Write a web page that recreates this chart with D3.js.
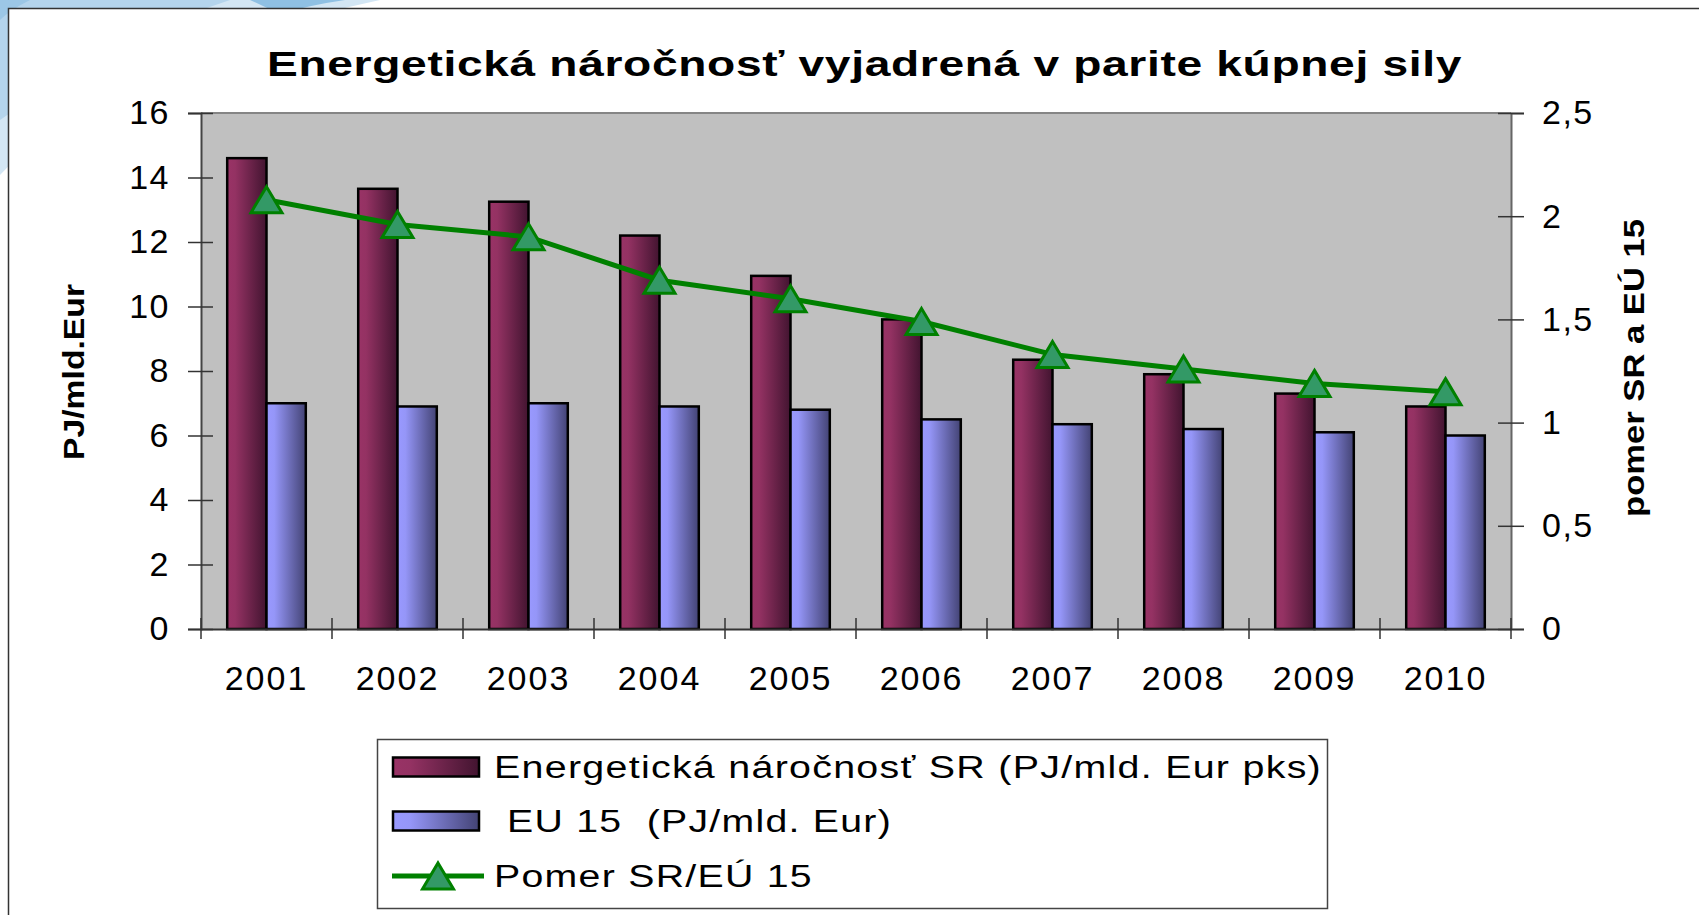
<!DOCTYPE html>
<html>
<head>
<meta charset="utf-8">
<script src="https://cdn.jsdelivr.net/npm/d3@7"></script>
<style>
body { margin: 0; background: #fff; }
text { font-family: "Liberation Sans", Arial, sans-serif; fill: #000; }
</style>
</head>
<body>
<div id="chart"></div>
<script>
// data
var years = ["2001", "2002", "2003", "2004", "2005", "2006", "2007", "2008", "2009", "2010"];
var srIntensity = [14.6, 13.65, 13.25, 12.2, 10.95, 9.6, 8.35, 7.9, 7.3, 6.9];   // PJ/mld. Eur pks
var eu15Intensity = [7.0, 6.9, 7.0, 6.9, 6.8, 6.5, 6.35, 6.2, 6.1, 6.0];        // PJ/mld. Eur
var ratioSrEu = [2.08, 1.96, 1.90, 1.69, 1.60, 1.49, 1.33, 1.26, 1.19, 1.15];   // right axis
var leftTicks = [0, 2, 4, 6, 8, 10, 12, 14, 16];
var rightTicks = [0, 0.5, 1, 1.5, 2, 2.5];
var seriesNames = ["Energetická náročnosť SR (PJ/mld. Eur pks)", "EU 15  (PJ/mld. Eur)", "Pomer SR/EÚ 15"];

var WIDTH = 1699, HEIGHT = 915;
var PLOT = {left: 201, right: 1511, top: 113, bottom: 629};
var LINE_GREEN = "#008000";

var svg = d3.select("#chart").append("svg")
    .attr("width", WIDTH)
    .attr("height", HEIGHT);

// light blue swoosh behind the frame (top-left corner of the slide)
var deco = svg.append("g");
deco.append("path").attr("d", "M0,0 L380,0 Q260,25 140,80 Q50,120 0,175 Z").attr("fill", "#d3e6f4");
deco.append("path").attr("d", "M0,0 L230,0 Q120,35 0,120 Z").attr("fill", "#b4d4ec");
deco.append("path").attr("d", "M250,0 L345,0 Q310,5 280,14 Z").attr("fill", "#8fc0e3");
deco.append("path").attr("d", "M0,20 Q10,10 30,0 L0,0 Z").attr("fill", "#9cc7e6");

// slide frame
svg.append("rect")
    .attr("x", 8.5).attr("y", 8.5)
    .attr("width", WIDTH + 20).attr("height", HEIGHT + 20)
    .attr("fill", "#fff")
    .attr("stroke", "#333").attr("stroke-width", 1.5);

// gradients for the bars
var defs = svg.append("defs");
function addGradient(id, stops) {
  var g = defs.append("linearGradient").attr("id", id)
      .attr("x1", "0").attr("x2", "1").attr("y1", "0").attr("y2", "0");
  stops.forEach(function(s) { g.append("stop").attr("offset", s[0]).attr("stop-color", s[1]); });
}
addGradient("gradSR", [[0, "#993366"], [0.2, "#943263"], [1, "#421430"]]);
addGradient("gradEU", [[0, "#9999ff"], [0.2, "#9596f8"], [1, "#434374"]]);

// scales
var x0 = d3.scaleBand()
    .domain(years)
    .range([PLOT.left, PLOT.right])
    .paddingInner(0.4)
    .paddingOuter(0.2);
var x1 = d3.scaleBand()
    .domain(["sr", "eu"])
    .range([0, x0.bandwidth()]);
var yLeft = d3.scaleLinear().domain([0, 16]).range([PLOT.bottom, PLOT.top]);
var yRight = d3.scaleLinear().domain([0, 2.5]).range([PLOT.bottom, PLOT.top]);

// plot area
svg.append("rect")
    .attr("x", PLOT.left).attr("y", PLOT.top)
    .attr("width", PLOT.right - PLOT.left).attr("height", PLOT.bottom - PLOT.top)
    .attr("fill", "#c0c0c0");
svg.append("line")
    .attr("x1", PLOT.left).attr("x2", PLOT.right)
    .attr("y1", PLOT.top).attr("y2", PLOT.top)
    .attr("stroke", "#858585").attr("stroke-width", 2);

// bars
var groups = svg.append("g").selectAll("g")
    .data(years)
    .enter().append("g")
    .attr("transform", function(d) { return "translate(" + x0(d) + ",0)"; });

groups.append("rect")
    .attr("x", x1("sr"))
    .attr("y", function(d, i) { return yLeft(srIntensity[i]); })
    .attr("width", x1.bandwidth())
    .attr("height", function(d, i) { return PLOT.bottom - yLeft(srIntensity[i]); })
    .attr("fill", "url(#gradSR)")
    .attr("stroke", "#000").attr("stroke-width", 2.5);

groups.append("rect")
    .attr("x", x1("eu"))
    .attr("y", function(d, i) { return yLeft(eu15Intensity[i]); })
    .attr("width", x1.bandwidth())
    .attr("height", function(d, i) { return PLOT.bottom - yLeft(eu15Intensity[i]); })
    .attr("fill", "url(#gradEU)")
    .attr("stroke", "#000").attr("stroke-width", 2.5);

// axes
var fmtComma = function(d) { return String(d).replace(".", ","); };

var leftAxis = svg.append("g")
    .attr("transform", "translate(" + PLOT.left + ",0)")
    .call(d3.axisLeft(yLeft).tickValues(leftTicks).tickSize(13).tickPadding(18));
leftAxis.selectAll(".tick line").attr("x1", 12).attr("stroke", "#333").attr("stroke-width", 1.5);
leftAxis.select(".domain").attr("stroke", "#444").attr("stroke-width", 2);

var rightAxis = svg.append("g")
    .attr("transform", "translate(" + PLOT.right + ",0)")
    .call(d3.axisRight(yRight).tickValues(rightTicks).tickFormat(fmtComma).tickSize(13).tickPadding(18));
rightAxis.selectAll(".tick line").attr("x1", -13).attr("stroke", "#333").attr("stroke-width", 1.5);
rightAxis.select(".domain").attr("stroke", "#666").attr("stroke-width", 2);

var bottomAxis = svg.append("g")
    .attr("transform", "translate(0," + PLOT.bottom + ")")
    .call(d3.axisBottom(x0).tickSize(0).tickPadding(37));
bottomAxis.select(".domain").attr("stroke", "#333").attr("stroke-width", 2);

// category boundary ticks on the x axis
var boundaries = years.map(function(d) { return x0(d) - x0.step() * x0.paddingOuter(); });
boundaries.push(PLOT.right);
bottomAxis.selectAll(".bound")
    .data(boundaries)
    .enter().append("line")
    .attr("class", "bound")
    .attr("x1", function(d) { return d; }).attr("x2", function(d) { return d; })
    .attr("y1", -11).attr("y2", 10)
    .attr("stroke", "#333").attr("stroke-width", 1.5);

svg.selectAll(".tick text")
    .style("font-size", "34px")
    .style("letter-spacing", "1.5px")
    .attr("fill", "#000");
bottomAxis.selectAll(".tick text").style("letter-spacing", "2px");
[leftAxis, rightAxis, bottomAxis].forEach(function(a) { a.attr("font-family", null).attr("font-size", null); });

// ratio line with triangle markers
var cx = function(i) { return x0(years[i]) + x0.bandwidth() / 2; };
var line = d3.line()
    .x(function(d, i) { return cx(i); })
    .y(function(d) { return yRight(d); });
svg.append("path")
    .datum(ratioSrEu)
    .attr("d", line)
    .attr("fill", "none")
    .attr("stroke", LINE_GREEN).attr("stroke-width", 5);

var TRI = "M0,-13 L15.5,13 L-15.5,13 Z";
svg.append("g").selectAll("path")
    .data(ratioSrEu)
    .enter().append("path")
    .attr("d", TRI)
    .attr("transform", function(d, i) { return "translate(" + cx(i) + "," + yRight(d) + ")"; })
    .attr("fill", "#339966")
    .attr("stroke", LINE_GREEN).attr("stroke-width", 3)
    .attr("stroke-linejoin", "miter");

// title and axis titles (the original glyphs are stretched, so stretch them too)
svg.append("text")
    .attr("x", 267).attr("y", 76)
    .attr("textLength", 1195).attr("lengthAdjust", "spacingAndGlyphs")
    .style("font-size", "35px").style("font-weight", "bold")
    .style("letter-spacing", "0.5px")
    .text("Energetická náročnosť vyjadrená v parite kúpnej sily");

svg.append("text")
    .attr("transform", "translate(84,372) rotate(-90)")
    .attr("text-anchor", "middle")
    .attr("textLength", 176).attr("lengthAdjust", "spacingAndGlyphs")
    .style("font-size", "30px").style("font-weight", "bold")
    .text("PJ/mld.Eur");

svg.append("text")
    .attr("transform", "translate(1644,368) rotate(-90)")
    .attr("text-anchor", "middle")
    .attr("textLength", 298).attr("lengthAdjust", "spacingAndGlyphs")
    .style("font-size", "30px").style("font-weight", "bold")
    .text("pomer SR a EÚ 15");

// legend
var legend = svg.append("g");
legend.append("rect")
    .attr("x", 377.5).attr("y", 739.5)
    .attr("width", 950).attr("height", 169)
    .attr("fill", "#fff").attr("stroke", "#444").attr("stroke-width", 1.5);

var legendRows = [
  {name: seriesNames[0], fill: "url(#gradSR)", y: 767, tx: 494, len: 828},
  {name: seriesNames[1], fill: "url(#gradEU)", y: 821, tx: 507, len: 385},
  {name: seriesNames[2], fill: null, y: 876, tx: 494, len: 319}
];
legendRows.forEach(function(r) {
  if (r.fill) {
    legend.append("rect")
      .attr("x", 393).attr("y", r.y - 9.5)
      .attr("width", 86).attr("height", 19)
      .attr("fill", r.fill).attr("stroke", "#000").attr("stroke-width", 2.5);
  } else {
    legend.append("line")
      .attr("x1", 392).attr("x2", 484).attr("y1", r.y).attr("y2", r.y)
      .attr("stroke", LINE_GREEN).attr("stroke-width", 5);
    legend.append("path")
      .attr("d", TRI)
      .attr("transform", "translate(438," + r.y + ")")
      .attr("fill", "#339966").attr("stroke", LINE_GREEN).attr("stroke-width", 3);
  }
  legend.append("text")
    .attr("x", r.tx).attr("y", r.y + 11)
    .attr("textLength", r.len).attr("lengthAdjust", "spacingAndGlyphs")
    .style("font-size", "31px")
    .style("letter-spacing", "1px")
    .style("white-space", "pre")
    .text(r.name);
});
</script>
</body>
</html>
